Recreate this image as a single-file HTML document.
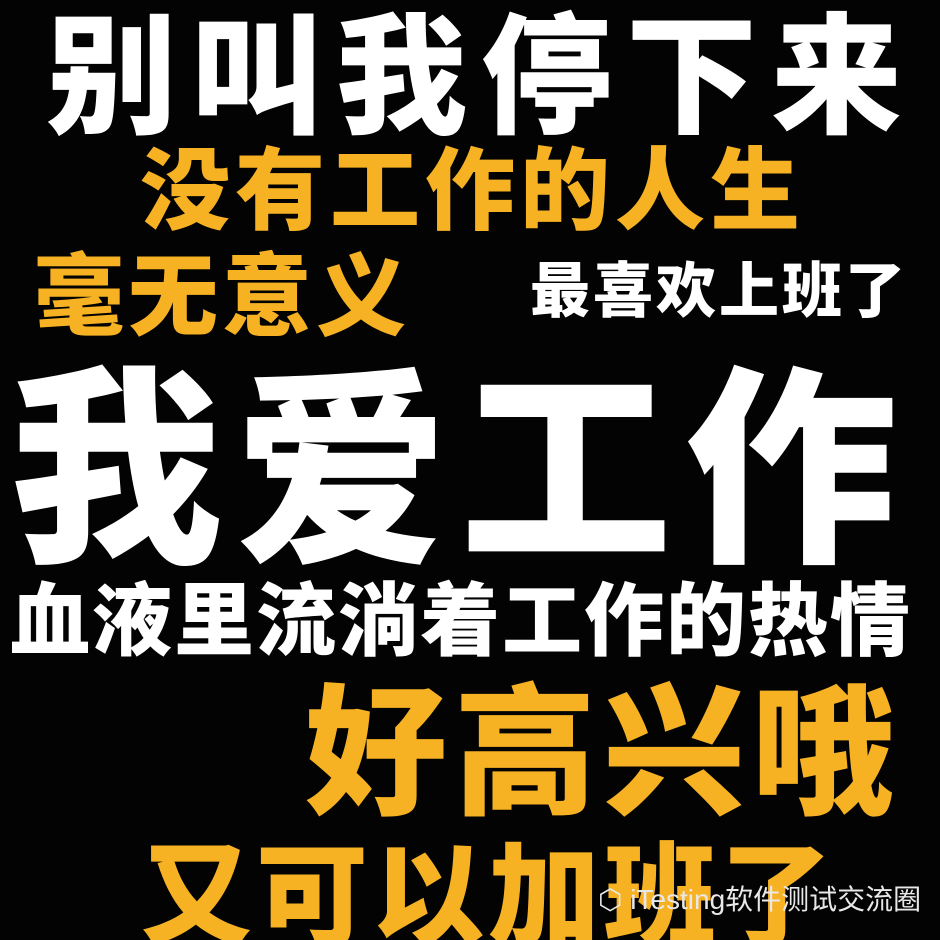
<!DOCTYPE html>
<html><head><meta charset="utf-8"><style>
html,body{margin:0;padding:0;background:#000;}
#poster{position:relative;width:940px;height:940px;overflow:hidden;background:#030303;font-family:"Liberation Sans","Noto Sans CJK SC","WenQuanYi Zen Hei",sans-serif;font-weight:900;}
.t{position:absolute;white-space:nowrap;line-height:1;}
.w{color:#fff;}
.y{color:#f7b223;}
</style></head><body>
<div id="poster">
<div class="t w" style="left:46px;top:12px;font-size:131px;letter-spacing:14px;">别叫我停下来</div>
<div class="t y" style="left:140px;top:147px;font-size:90px;letter-spacing:5px;">没有工作的人生</div>
<div class="t y" style="left:34px;top:253px;font-size:90px;letter-spacing:4px;">毫无意义</div>
<div class="t w" style="left:530px;top:262px;font-size:60px;letter-spacing:3px;">最喜欢上班了</div>
<div class="t w" style="left:10px;top:366px;font-size:212px;letter-spacing:13px;">我爱工作</div>
<div class="t w" style="left:10px;top:582px;font-size:80px;letter-spacing:2px;">血液里流淌着工作的热情</div>
<div class="t y" style="left:305px;top:684px;font-size:142px;letter-spacing:7px;">好高兴哦</div>
<div class="t y" style="left:140px;top:842px;font-size:112px;letter-spacing:4px;">又可以加班了</div>
<div class="t" style="left:598px;top:886px;font-size:28px;font-weight:400;color:#e8e8e8;">⬡ iTesting软件测试交流圈</div>
</div>
</body></html>
